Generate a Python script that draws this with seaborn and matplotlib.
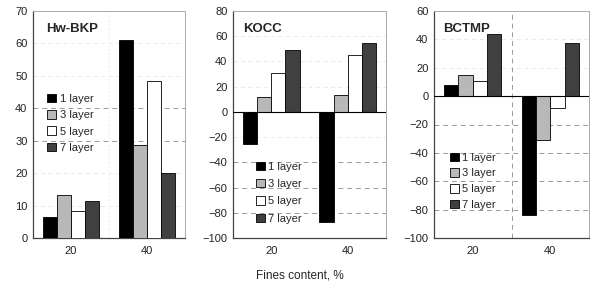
import matplotlib
matplotlib.use("Agg")
import matplotlib.pyplot as plt
import seaborn as sns
import pandas as pd
from matplotlib.patches import Patch

sns.set_style("white")
plt.rcParams['font.family'] = ['Liberation Sans', 'DejaVu Sans']

fines = ["20", "40"]
layers = ["1 layer", "3 layer", "5 layer", "7 layer"]
hw_bkp = {"1 layer": [6.5, 61.0], "3 layer": [13.3, 28.7], "5 layer": [8.3, 48.3], "7 layer": [11.3, 20.0]}
kocc = {"1 layer": [-25.5, -87.0], "3 layer": [12.0, 13.0], "5 layer": [31.0, 45.5], "7 layer": [49.0, 55.0]}
bctmp = {"1 layer": [8.0, -84.0], "3 layer": [15.0, -31.0], "5 layer": [11.0, -8.5], "7 layer": [43.5, 37.5]}
titles = ["Hw-BKP", "KOCC", "BCTMP"]
ylims = [(0, 70, 10), (-100, 80, 20), (-100, 60, 20)]
strong_grid = [[30, 40], [-40, -60, -80], [-20, -40, -60, -80]]
colors = ["#000000", "#b8b8b8", "#ffffff", "#404040"]

fig = plt.figure(figsize=(5.93, 2.88), dpi=100)
W, H = 593, 288
axes_px = [(33, 185), (233, 386), (434, 589)]
top, bottom = 11, 238
datasets = [hw_bkp, kocc, bctmp]
legend_pos = [(0.095, 0.505), (0.15, 0.20), (0.105, 0.25)]
legend_spacing = [0.55, 0.65, 0.5]
title_x = [0.085, 0.065, 0.06]

for i, (data, (l, r)) in enumerate(zip(datasets, axes_px)):
    ax = fig.add_axes([l / W, 1 - bottom / H, (r - l) / W, (bottom - top) / H])
    rows = []
    for lay in layers:
        for f, v in zip(fines, data[lay]):
            rows.append({"fines": f, "layer": lay, "value": v})
    df = pd.DataFrame(rows)
    sns.barplot(data=df, x="fines", y="value", hue="layer", hue_order=layers,
                order=fines, palette=colors, edgecolor="black", linewidth=0.6,
                width=0.74, ax=ax, legend=False, zorder=3)
    lo, hi, st = ylims[i]
    ax.set_ylim(lo, hi)
    ax.set_yticks(list(range(lo, hi + 1, st)))
    ax.set_xlim(-0.5, 1.5)
    for yv in range(lo, hi + 1, st):
        if yv in (lo, hi, 0):
            continue
        if yv in strong_grid[i]:
            ax.axhline(yv, color="#999999", lw=0.7, ls=(0, (5, 4)), zorder=1)
        else:
            ax.axhline(yv, color="#e6e6e6", lw=0.6, ls=(0, (5, 4)), zorder=1)
    if lo < 0:
        ax.axhline(0, color="black", lw=0.8, zorder=4)
    if i == 2:
        ax.axvline(0.5, color="#999999", lw=0.7, ls=(0, (5, 4)), zorder=1)
    elif i == 0:
        ax.axvline(0.5, color="#e6e6e6", lw=0.6, ls=(0, (2, 3)), zorder=1)
    ax.set_xlabel("")
    ax.set_ylabel("")
    ax.tick_params(axis="both", labelsize=8, length=0, pad=4, colors="#222222")
    ax.tick_params(axis="x", pad=6)
    for s in ["left", "bottom"]:
        ax.spines[s].set_color("#444444")
        ax.spines[s].set_linewidth(0.9)
    for s in ["top", "right"]:
        ax.spines[s].set_color("#aaaaaa")
        ax.spines[s].set_linewidth(0.7)
    ax.text(title_x[i], 0.945, titles[i], transform=ax.transAxes, fontsize=9.5,
            fontweight="bold", va="top", ha="left", zorder=6)
    handles = [Patch(facecolor=c, edgecolor="black", linewidth=0.6) for c in colors]
    leg = ax.legend(handles, layers, loc="center left", bbox_to_anchor=legend_pos[i],
                    frameon=False, fontsize=8, handlelength=0.8, handleheight=0.8,
                    handletextpad=0.3, labelspacing=legend_spacing[i],
                    borderaxespad=0, borderpad=0)
    leg.set_zorder(5)

fig.text(300 / W, 1 - 276 / H, "Fines content, %", ha="center", va="center", fontsize=8.5)
fig.savefig("out.png", dpi=100)
